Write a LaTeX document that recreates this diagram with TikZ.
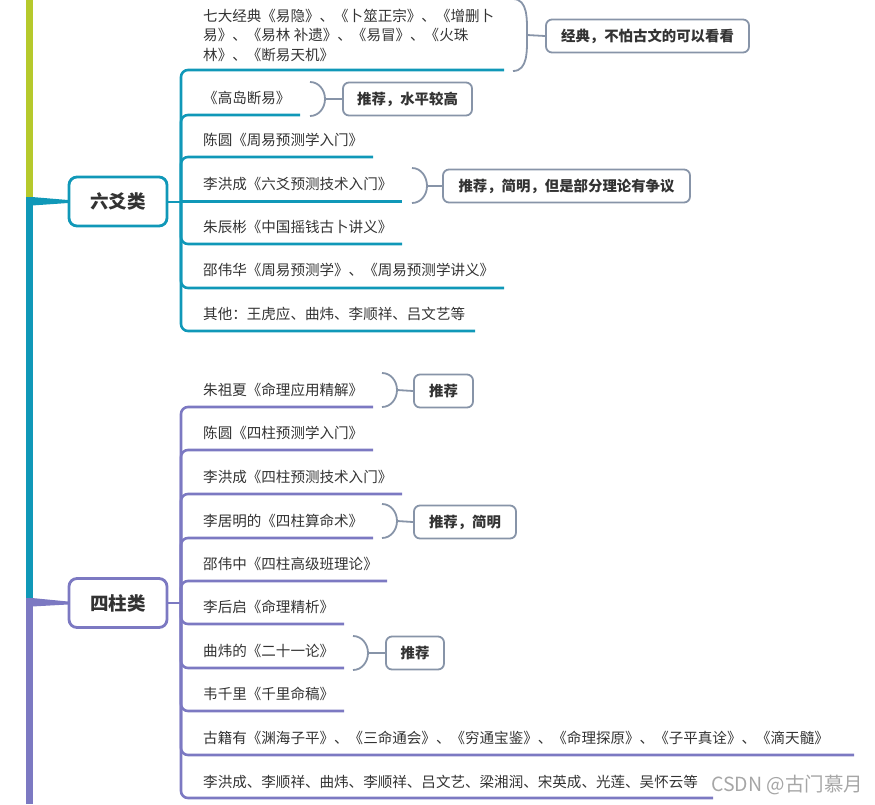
\documentclass[tikz,border=0pt]{standalone}
\usepackage{fontspec}
\setmainfont{Noto Sans CJK SC}
\definecolor{cgreen}{HTML}{B6C92C}
\definecolor{cteal}{HTML}{1098B8}
\definecolor{cpurple}{HTML}{7C79C2}
\definecolor{cgray}{HTML}{8794A8}
\definecolor{ctext}{HTML}{333333}
\tikzset{
  cat/.style={draw, line width=2.8pt, rounded corners=8pt, fill=white, minimum width=98pt, minimum height=49pt, inner sep=0pt, font=\fontsize{18.5}{22}\selectfont\bfseries, text=ctext},
  item/.style={anchor=west, inner sep=0pt, font=\fontsize{14.55}{19.5}\selectfont, text=ctext, align=left},
  note/.style={draw=cgray, line width=1.8pt, rounded corners=6pt, fill=white, minimum height=33pt, inner sep=0pt, font=\fontsize{14.4}{17}\selectfont\bfseries, text=ctext},
  tline/.style={draw=cteal, line width=2.6pt, rounded corners=7pt},
  pline/.style={draw=cpurple, line width=2.6pt, rounded corners=7pt},
  brk/.style={draw=cgray, line width=1.8pt},
}
\begin{document}
\begin{tikzpicture}[x=1pt,y=-1pt]
\useasboundingbox (0,0) rectangle (875,804);
% main trunk
\fill[cgreen] (26,0) rectangle (33,199);
\fill[cteal] (26,197) rectangle (33,601);
\fill[cpurple] (26,598) rectangle (33,804);
\fill[cteal] (32,197) -- (68,200) -- (68,203) -- (32,205.5) -- cycle;
\fill[cpurple] (32,598) -- (68,601.5) -- (68,604.5) -- (32,606.5) -- cycle;

% ===== 六爻类 =====
\coordinate (lj) at (181,201.5);
\coordinate (l1e) at (504,70);
\coordinate (l2e) at (300,115);
\coordinate (l3e) at (373,157);
\coordinate (l4e) at (402,201.5);
\coordinate (l5e) at (402,244);
\coordinate (l6e) at (504,288);
\coordinate (l7e) at (475,331);
\draw[tline] (lj) |- (l1e);
\draw[tline] (lj) |- (l2e);
\draw[tline] (lj) |- (l3e);
\draw[tline] (lj) -- (l4e);
\draw[tline] (lj) |- (l5e);
\draw[tline] (lj) |- (l6e);
\draw[tline] (lj) |- (l7e);
\node[cat, draw=cteal] (liuyao) at (118,201.5) {六爻类};
\draw[draw=cteal, line width=2pt] (liuyao.east) -- (lj);

\node[item] (l1) at (203,35) {七大经典《易隐》、《卜筮正宗》、《增删卜\\易》、《易林 补遗》、《易冒》、《火珠\\林》、《断易天机》};
\node[item] (l2) at (203,98) {《高岛断易》};
\node[item] (l3) at (203,140) {陈圆《周易预测学入门》};
\node[item] (l4) at (203,184) {李洪成《六爻预测技术入门》};
\node[item] (l5) at (203,227) {朱辰彬《中国摇钱古卜讲义》};
\node[item] (l6) at (203,270) {邵伟华《周易预测学》、《周易预测学讲义》};
\node[item] (l7) at (203,314) {其他：王虎应、曲炜、李顺祥、吕文艺等};

% notes for 六爻
\node[note, minimum width=203pt] (n1) at (647.5,36) {经典，不怕古文的可以看看};
\coordinate (b1) at (527,35);
\draw[brk] (513,-1) to[out=0,in=90] (b1) to[out=-90,in=0] (513,71);
\draw[brk] (b1) -- (n1.west);

\node[note, minimum width=129pt] (n2) at (407.5,99) {推荐，水平较高};
\coordinate (b2) at (325,99);
\draw[brk] (310,82) to[out=0,in=90] (b2) to[out=-90,in=0] (310,116);
\draw[brk] (b2) -- (n2.west);

\node[note, minimum width=247pt] (n3) at (566.5,186) {推荐，简明，但是部分理论有争议};
\coordinate (b3) at (427,186);
\draw[brk] (412,168) to[out=0,in=90] (b3) to[out=-90,in=0] (412,203);
\draw[brk] (b3) -- (n3.west);

% ===== 四柱类 =====
\coordinate (sj) at (181,603);
\coordinate (s1e) at (373,407);
\coordinate (s2e) at (373,450);
\coordinate (s3e) at (402,494);
\coordinate (s4e) at (373,538);
\coordinate (s5e) at (387,581);
\coordinate (s6e) at (344,624);
\coordinate (s7e) at (344,668);
\coordinate (s8e) at (344,711);
\coordinate (s9e) at (854,755);
\coordinate (s10e) at (713,798);
\foreach \e in {s1e,s2e,s3e,s4e,s5e,s6e,s7e,s8e,s9e,s10e}{
  \draw[pline] (sj) |- (\e);
}
\node[cat, draw=cpurple] (sizhu) at (118,603) {四柱类};
\draw[draw=cpurple, line width=2pt] (sizhu.east) -- (sj);

\node[item] (s1) at (203,390) {朱祖夏《命理应用精解》};
\node[item] (s2) at (203,433) {陈圆《四柱预测学入门》};
\node[item] (s3) at (203,477) {李洪成《四柱预测技术入门》};
\node[item] (s4) at (203,521) {李居明的《四柱算命术》};
\node[item] (s5) at (203,564) {邵伟中《四柱高级班理论》};
\node[item] (s6) at (203,607) {李后启《命理精析》};
\node[item] (s7) at (203,651) {曲炜的《二十一论》};
\node[item] (s8) at (203,694) {韦千里《千里命稿》};
\node[item] (s9) at (203,738) {古籍有《渊海子平》、《三命通会》、《穷通宝鉴》、《命理探原》、《子平真诠》、《滴天髓》};
\node[item] (s10) at (203,782) {李洪成、李顺祥、曲炜、李顺祥、吕文艺、梁湘润、宋英成、光莲、吴怀云等};

\node[note, minimum width=59pt] (n4) at (443.5,391) {推荐};
\coordinate (b4) at (397,390);
\draw[brk] (382,373) to[out=0,in=90] (b4) to[out=-90,in=0] (382,407);
\draw[brk] (b4) -- (n4.west);

\node[note, minimum width=102pt] (n5) at (465,522) {推荐，简明};
\coordinate (b5) at (397,521);
\draw[brk] (382,504) to[out=0,in=90] (b5) to[out=-90,in=0] (382,538);
\draw[brk] (b5) -- (n5.west);

\node[note, minimum width=58pt] (n6) at (415,653) {推荐};
\coordinate (b6) at (368,653);
\draw[brk] (353,636) to[out=0,in=90] (b6) to[out=-90,in=0] (353,670);
\draw[brk] (b6) -- (n6.west);

% watermark
\node[anchor=west, inner sep=0pt, text=black!35, font=\fontsize{19.5}{22}\selectfont] (wm) at (711,785) {CSDN @古门慕月};
\end{tikzpicture}
\end{document}
